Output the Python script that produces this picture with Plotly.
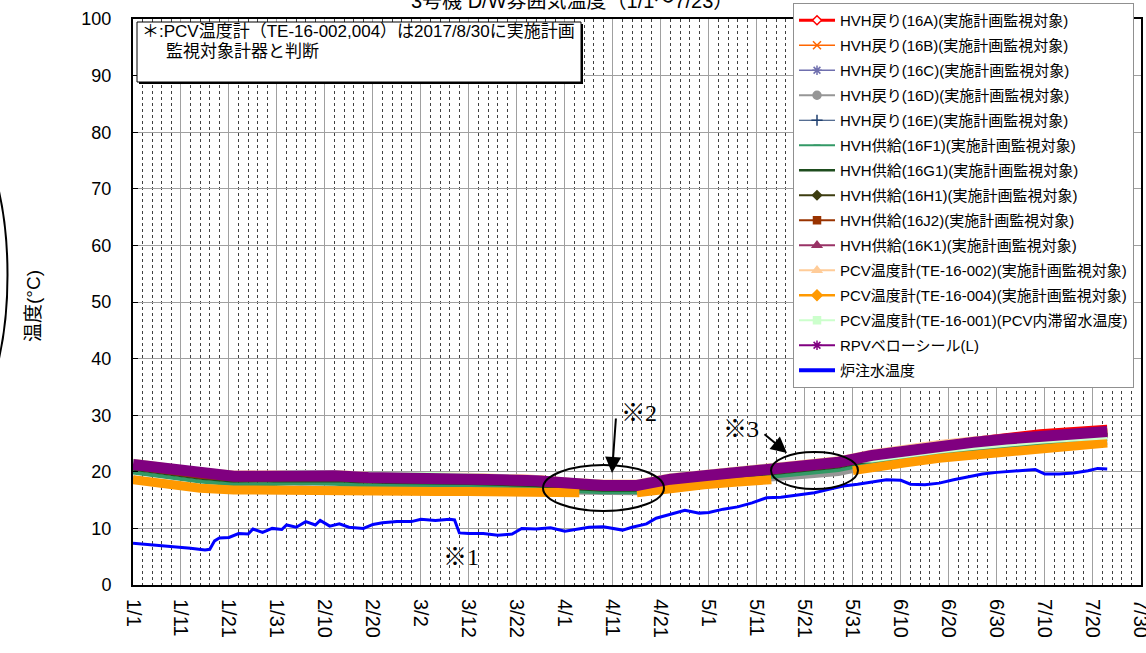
import plotly.graph_objects as go
from datetime import datetime

# ---------------------------------------------------------------- data
YEAR = "2019"

TICK_LABELS = ["1/1", "1/11", "1/21", "1/31", "2/10", "2/20", "3/2", "3/12", "3/22",
               "4/1", "4/11", "4/21", "5/1", "5/11", "5/21", "5/31", "6/10", "6/20",
               "6/30", "7/10", "7/20", "7/30"]

# weekly readings shared by the HVH / PCV / RPV instruments
WEEK_DATES = ["01-01", "01-08", "01-15", "01-22", "01-29", "02-05", "02-12", "02-19",
              "02-26", "03-05", "03-12", "03-19", "03-26", "04-02", "04-09", "04-16",
              "04-23", "04-30", "05-07", "05-14", "05-21", "05-28", "06-04", "06-11",
              "06-18", "06-25", "07-02", "07-09", "07-16", "07-23"]

hvh_16a = [21.7, 20.9, 20.1, 19.6, 19.6, 19.8, 19.7, 19.4, 19.4, 19.4, 19.2, 19.0, 18.9, 18.3, 18.0,
           18.0, 19.1, 19.7, 20.3, 20.9, 21.4, 22.1, 23.3, 24.2, 25.0, 25.6, 26.4, 27.0, 27.4, 27.8]
hvh_16b = [21.4, 20.6, 19.8, 19.3, 19.3, 19.5, 19.4, 19.1, 19.1, 19.1, 18.9, 18.7, 18.5, 18.0, 17.7,
           17.7, 18.8, 19.4, 20.0, 20.6, 21.1, 21.8, 23.0, 23.9, 24.7, 25.3, 25.9, 26.4, 26.8, 27.2]
hvh_16c = [21.2, 20.4, 19.6, 19.1, 19.1, 19.3, 19.2, 18.9, 18.9, 18.9, 18.7, 18.5, 18.3, 17.8, 17.5,
           17.5, 18.6, 19.2, 19.8, 20.4, 20.9, 21.6, 22.8, 23.7, 24.5, 25.1, 25.7, 26.2, 26.6, 27.0]
hvh_16d = [18.8, 18.0, 17.3, 17.0, 16.9, 17.1, 17.0, 16.7, 16.7, 16.7, 16.7, 16.6, 16.7, 16.5, 16.3,
           16.4, 17.4, 17.9, 18.4, 18.9, 19.3, 19.8, 21.0, 21.8, 22.6, 23.2, 23.8, 24.4, 24.8, 25.3]
hvh_16e = [21.0, 20.2, 19.4, 18.9, 18.9, 19.1, 19.0, 18.7, 18.7, 18.7, 18.5, 18.3, 18.1, 17.6, 17.3,
           17.3, 18.4, 19.0, 19.6, 20.2, 20.7, 21.4, 22.6, 23.5, 24.3, 24.9, 25.5, 26.0, 26.4, 26.8]
hvh_16f1 = [19.9, 19.1, 18.3, 17.8, 17.8, 18.0, 17.9, 17.6, 17.6, 17.6, 17.5, 17.3, 17.1, 16.6, 16.4,
            16.4, 17.3, 17.9, 18.5, 19.1, 19.6, 20.3, 21.5, 22.4, 23.2, 23.8, 24.4, 24.9, 25.3, 25.8]
hvh_16g1 = [20.7, 19.9, 19.1, 18.6, 18.6, 18.8, 18.7, 18.4, 18.4, 18.4, 18.2, 18.0, 17.8, 17.3, 17.0,
            17.0, 18.1, 18.7, 19.3, 19.9, 20.4, 21.1, 22.3, 23.2, 24.0, 24.6, 25.2, 25.7, 26.1, 26.5]
hvh_16h1 = [21.1, 20.3, 19.5, 19.0, 19.0, 19.2, 19.1, 18.8, 18.8, 18.8, 18.6, 18.4, 18.2, 17.7, 17.4,
            17.4, 18.5, 19.1, 19.7, 20.3, 20.8, 21.5, 22.7, 23.6, 24.4, 25.0, 25.6, 26.1, 26.5, 26.9]
hvh_16j2 = [20.9, 20.1, 19.3, 18.8, 18.8, 19.0, 18.9, 18.6, 18.6, 18.6, 18.4, 18.2, 18.0, 17.5, 17.2,
            17.2, 18.3, 18.9, 19.5, 20.1, 20.6, 21.3, 22.5, 23.4, 24.2, 24.8, 25.4, 25.9, 26.3, 26.7]
hvh_16k1 = [21.5, 20.7, 19.9, 19.4, 19.4, 19.6, 19.5, 19.2, 19.2, 19.2, 19.0, 18.8, 18.6, 18.1, 17.8,
            17.8, 18.9, 19.5, 20.1, 20.7, 21.2, 21.9, 23.1, 24.0, 24.8, 25.4, 26.0, 26.5, 26.9, 27.3]
pcv_002 = [21.8, 21.0, 20.2, 19.7, 19.7, 19.9, 19.8, 19.5, 19.5, 19.5, 19.3, 19.1, 18.9, 18.4, 18.1,
           18.1, 19.2, 19.8, 20.4, 21.0, 21.5, 22.2, 23.4, 24.3, 25.1, 25.7, 26.1, 26.6, 27.0, 27.4]
pcv_001 = [21.9, 21.1, 20.3, 19.8, 19.8, 20.0, 19.9, 19.6, 19.6, 19.6, 19.4, 19.2, 19.0, 18.5, 18.2,
           18.2, 19.3, 19.9, 20.5, 21.1, 21.5, 21.9, 22.0, 22.8, 23.6, 24.2, 24.8, 25.3, 25.7, 26.1]
rpv_bellows = [21.3, 20.5, 19.7, 19.2, 19.2, 19.4, 19.3, 19.0, 19.0, 19.0, 18.8, 18.6, 18.4, 17.9, 17.6,
               17.6, 18.7, 19.3, 19.9, 20.5, 21.0, 21.7, 22.9, 23.8, 24.6, 25.2, 25.8, 26.3, 26.7, 27.1]

# TE-16-004 has two outages (None = no reading)
PCV004_DATES = ["01-01", "01-08", "01-15", "01-22", "01-29", "02-05", "02-12", "02-19", "02-26",
                "03-05", "03-12", "03-19", "03-26", "04-02", "04-04", "04-10", "04-16", "04-23",
                "04-30", "05-07", "05-14", "05-22", "05-31", "06-04", "06-11", "06-18", "06-25",
                "07-02", "07-09", "07-16", "07-23"]
pcv_004 = [18.6, 17.8, 17.1, 16.8, 16.7, 16.9, 16.8, 16.5, 16.5, 16.5, 16.5, 16.4, 16.5, 16.4, 16.3,
           None, 16.3, 17.2, 17.7, 18.2, 18.6, None, 20.2, 20.8, 21.6, 22.4, 23.0, 23.6, 24.2, 24.6, 25.1]

# reactor feed-water temperature
FEED_DATES = ["01-01", "01-04", "01-07", "01-10", "01-13", "01-16", "01-17", "01-18", "01-19",
              "01-21", "01-23", "01-25", "01-26", "01-28", "01-30", "02-01", "02-02", "02-04",
              "02-06", "02-08", "02-09", "02-11", "02-13", "02-15", "02-18", "02-20", "02-22",
              "02-25", "02-28", "03-02", "03-05", "03-08", "03-09", "03-10", "03-12", "03-15",
              "03-18", "03-21", "03-23", "03-26", "03-29", "04-01", "04-03", "04-06", "04-09",
              "04-11", "04-13", "04-15", "04-18", "04-20", "04-23", "04-26", "04-29", "05-01",
              "05-04", "05-07", "05-10", "05-13", "05-16", "05-20", "05-23", "05-26", "05-29",
              "06-01", "06-04", "06-07", "06-10", "06-12", "06-15", "06-18", "06-21", "06-24",
              "06-27", "06-30", "07-03", "07-06", "07-08", "07-10", "07-13", "07-16", "07-19",
              "07-21", "07-23"]
feed_water = [7.4, 7.2, 7.0, 6.8, 6.5, 6.2, 6.3, 7.8, 8.3, 8.4, 9.1, 9.0, 9.9, 9.3, 10.0, 9.8, 10.6,
              10.2, 11.2, 10.6, 11.4, 10.4, 10.8, 10.2, 10.0, 10.7, 11.0, 11.2, 11.2, 11.6, 11.4, 11.6,
              11.5, 9.2, 9.1, 9.1, 8.8, 9.0, 10.0, 9.9, 10.1, 9.5, 9.8, 10.2, 10.3, 10.0, 9.7, 10.2,
              10.8, 11.8, 12.5, 13.2, 12.7, 12.8, 13.4, 13.8, 14.5, 15.4, 15.5, 16.0, 16.3, 16.9, 17.5,
              17.8, 18.2, 18.6, 18.5, 17.8, 17.7, 18.0, 18.6, 19.1, 19.6, 19.9, 20.1, 20.3, 20.4, 19.6,
              19.6, 19.8, 20.2, 20.6, 20.5]

# ---------------------------------------------------------------- helpers
def dates(md_list):
    return [f"{YEAR}-{md}" for md in md_list]

TICK_DATES = [datetime.strptime(f"{YEAR}/{t}", "%Y/%m/%d") for t in TICK_LABELS]

# plot area in page pixels (page 1146 x 653)
PL, PR, PT, PB = 133, 1141, 19, 585

def px(x):
    return (x - PL) / (PR - PL)

def py(y):
    return (PB - y) / (PB - PT)

JP = "Liberation Sans, Arial, Noto Sans CJK JP, sans-serif"
SERIF = "Liberation Serif, Times New Roman, Noto Sans CJK JP, serif"

# name, x, y, colour, legend marker, legend marker fill, marker size, legend line width, band width
SERIES = [
    ("HVH戻り(16A)(実施計画監視対象)", WEEK_DATES, hvh_16a, "#ff0000", "diamond", "white", 7, 3, 6),
    ("HVH戻り(16B)(実施計画監視対象)", WEEK_DATES, hvh_16b, "#ff6600", "x-thin-open", None, 8, 1.5, 6),
    ("HVH戻り(16C)(実施計画監視対象)", WEEK_DATES, hvh_16c, "#6f6fae", "asterisk-open", None, 8, 1.5, 6),
    ("HVH戻り(16D)(実施計画監視対象)", WEEK_DATES, hvh_16d, "#969696", "circle", None, 8, 2, 6),
    ("HVH戻り(16E)(実施計画監視対象)", WEEK_DATES, hvh_16e, "#1f3f6f", "cross-thin-open", None, 8, 1, 6),
    ("HVH供給(16F1)(実施計画監視対象)", WEEK_DATES, hvh_16f1, "#339966", "line-ew-open", None, 5, 2, 4),
    ("HVH供給(16G1)(実施計画監視対象)", WEEK_DATES, hvh_16g1, "#1e4d1e", "line-ew-open", None, 6, 2.5, 6),
    ("HVH供給(16H1)(実施計画監視対象)", WEEK_DATES, hvh_16h1, "#3d3d10", "diamond", None, 7, 2, 6),
    ("HVH供給(16J2)(実施計画監視対象)", WEEK_DATES, hvh_16j2, "#993300", "square", None, 7, 2, 6),
    ("HVH供給(16K1)(実施計画監視対象)", WEEK_DATES, hvh_16k1, "#993366", "triangle-up", None, 8, 2, 6),
    ("PCV温度計(TE-16-002)(実施計画監視対象)", WEEK_DATES, pcv_002, "#ffcc99", "triangle-up", None, 8, 2, 6),
    ("PCV温度計(TE-16-004)(実施計画監視対象)", PCV004_DATES, pcv_004, "#ff9900", "diamond", None, 8, 2.5, 9),
    ("PCV温度計(TE-16-001)(PCV内滞留水温度)", WEEK_DATES, pcv_001, "#ccffcc", "square", None, 7, 2, 4),
    ("RPVベローシール(L)", WEEK_DATES, rpv_bellows, "#800080", "asterisk-open", None, 8, 2, 11),
    ("炉注水温度", FEED_DATES, feed_water, "#0000ff", None, None, 0, 4, 3),
]

fig = go.Figure()

# the measured curves (drawn in series order; later series sit on top)
for name, xs, ys, col, sym, fill, msz, lw, band in SERIES:
    fig.add_trace(go.Scatter(
        x=dates(xs), y=ys, name=name, mode="lines", showlegend=False,
        line=dict(color=col, width=band), connectgaps=False, hoverinfo="skip"))

# legend keys
for i, (name, xs, ys, col, sym, fill, msz, lw, band) in enumerate(SERIES):
    if sym is None:
        mode, marker = "lines", None
    else:
        mode = "lines+markers"
        marker = dict(symbol=sym, size=msz, color=fill if fill else col,
                      line=dict(color=col, width=1.5))
    fig.add_trace(go.Scatter(
        x=[None], y=[None], name=name, mode=mode, legendgroup=f"k{i:02d}",
        line=dict(color=col, width=lw), marker=marker, showlegend=True))

shapes = [
    # note box with a drop shadow
    dict(type="rect", xref="paper", yref="paper", x0=px(139), x1=px(583), y0=py(84), y1=py(24),
         fillcolor="black", line=dict(width=0), layer="above"),
    dict(type="rect", xref="paper", yref="paper", x0=px(137), x1=px(581), y0=py(82), y1=py(22),
         fillcolor="white", line=dict(color="black", width=1), layer="above"),
    # circled regions
    dict(type="circle", xref="paper", yref="paper", x0=px(543), x1=px(664), y0=py(511), y1=py(465),
         line=dict(color="black", width=2), layer="above"),
    dict(type="circle", xref="paper", yref="paper", x0=px(771), x1=px(858), y0=py(489), y1=py(452),
         line=dict(color="black", width=2), layer="above"),
    # arc at the left margin
    dict(type="circle", xref="paper", yref="paper", x0=px(-127), x1=px(7.5), y0=py(445), y1=py(105),
         line=dict(color="black", width=2), layer="above"),
]

annotations = [
    dict(text="3号機 D/W雰囲気温度（1/1～7/23）", xref="paper", yref="paper", x=px(572), y=py(1),
         xanchor="center", yanchor="middle", showarrow=False, font=dict(family=JP, size=20, color="black")),
    dict(text="＊:PCV温度計（TE-16-002,004）は2017/8/30に実施計画", xref="paper", yref="paper",
         x=px(140), y=py(31.5), xanchor="left", yanchor="middle", showarrow=False,
         font=dict(family=JP, size=17, color="black")),
    dict(text="監視対象計器と判断", xref="paper", yref="paper",
         x=px(164), y=py(52), xanchor="left", yanchor="middle", showarrow=False,
         font=dict(family=JP, size=17, color="black")),
    dict(text="温度(°C)", xref="paper", yref="paper", x=px(33), y=py(306), textangle=-90,
         xanchor="center", yanchor="middle", showarrow=False, font=dict(family=JP, size=19, color="black")),
    dict(text="※1", xref="paper", yref="paper", x=px(461), y=py(557), xanchor="center", yanchor="middle",
         showarrow=False, font=dict(family=SERIF, size=24, color="black")),
    dict(text="※2", xref="paper", yref="paper", x=px(639), y=py(413), xanchor="center", yanchor="middle",
         showarrow=False, font=dict(family=SERIF, size=24, color="black")),
    dict(text="※3", xref="paper", yref="paper", x=px(741), y=py(429), xanchor="center", yanchor="middle",
         showarrow=False, font=dict(family=SERIF, size=24, color="black")),
    dict(text="", xref="paper", yref="paper", x=px(612), y=py(473), ax=4, ay=-56,
         showarrow=True, arrowhead=2, arrowsize=1.6, arrowwidth=2, arrowcolor="black"),
    dict(text="", xref="paper", yref="paper", x=px(787), y=py(453), ax=-24, ay=-20,
         showarrow=True, arrowhead=2, arrowsize=1.6, arrowwidth=2, arrowcolor="black"),
]

fig.update_layout(
    width=1146, height=653,
    margin=dict(l=PL, r=1146 - PR, t=PT, b=653 - PB, autoexpand=False),
    paper_bgcolor="white", plot_bgcolor="white",
    showlegend=True,
    legend=dict(x=px(793), y=py(3), xanchor="left", yanchor="top",
                bgcolor="white", bordercolor="#909090", borderwidth=1,
                font=dict(family=JP, size=15, color="black"),
                tracegroupgap=2.5, traceorder="grouped", itemwidth=36, maxheight=460),
    xaxis=dict(type="date", range=[f"{YEAR}-01-01", f"{YEAR}-07-30 01:00"],
               tickmode="array", tickvals=TICK_DATES, ticktext=TICK_LABELS, tickangle=90,
               tickfont=dict(family=JP, size=20, color="black"), ticklabelstandoff=8,
               ticklabeloverflow="allow", automargin=False,
               showgrid=True, gridcolor="#a0a0a0", gridwidth=1,
               minor=dict(dtick=2 * 86400000, tick0=f"{YEAR}-01-01", showgrid=True,
                          gridcolor="#404040", griddash="dot", gridwidth=1),
               showline=True, linecolor="black", linewidth=2, mirror=True, zeroline=False,
               ticks="", fixedrange=True),
    yaxis=dict(range=[0, 100], tickmode="linear", tick0=0, dtick=10, automargin=False,
               tickfont=dict(family=JP, size=18, color="black"),
               showgrid=True, gridcolor="#a0a0a0", gridwidth=1,
               showline=True, linecolor="black", linewidth=2, mirror=True, zeroline=False,
               ticks="inside", ticklen=5, tickcolor="black", ticklabelstandoff=16, fixedrange=True),
    shapes=shapes,
    annotations=annotations,
)

fig.write_html("out.html")
